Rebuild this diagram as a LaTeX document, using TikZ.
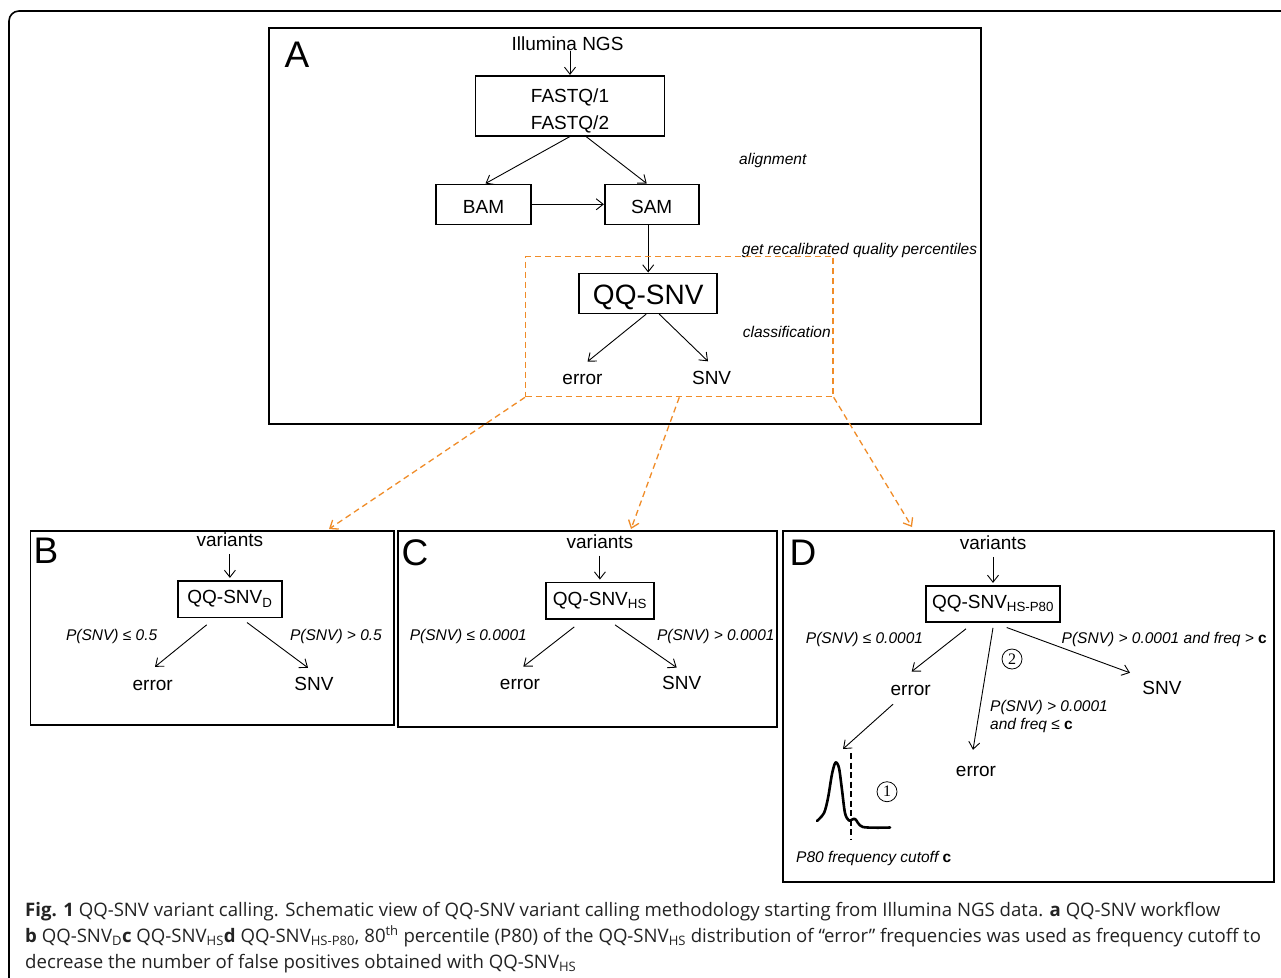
\documentclass[tikz,border=0pt]{standalone}
\usepackage{fontspec}
\setmainfont{Liberation Sans}
\newfontfamily\capfont{Open Sans}
\newfontfamily\numfont{Liberation Serif}
\usepackage{tikz}
\usetikzlibrary{arrows.meta}
\usetikzlibrary{positioning}
\definecolor{dashorange}{RGB}{240,140,40}
\definecolor{captext}{RGB}{35,35,35}
\tikzset{
  box/.style={draw, line width=1.6pt, inner sep=0pt, font=\fontsize{19}{21}\selectfont},
  boxa/.style={box, text height=17.5pt, text depth=0pt},
  panel/.style={draw, line width=1.6pt},
  leaf/.style={inner sep=0pt, text height=13pt, text depth=0pt, font=\fontsize{19}{21}\selectfont},
  cond/.style={inner sep=0pt, font=\fontsize{15.5}{18}\selectfont\itshape},
  arr/.style={-{Straight Barb[length=7pt,width=11pt]}, line width=0.9pt},
  orarr/.style={-{Straight Barb[length=7pt,width=11pt]}, draw=dashorange, line width=1.3pt, dash pattern=on 6pt off 4pt},
  letter/.style={inner sep=0pt, font=\fontsize{37}{40}\selectfont},
  circnum/.style={circle, draw, line width=0.8pt, inner sep=0pt, minimum size=20pt, font=\fontsize{16}{16}\numfont},
  capline/.style={anchor=base west, inner sep=0pt, text=captext, font=\fontsize{18.6}{26}\capfont}
}

\begin{document}
\begin{tikzpicture}[x=1pt,y=-1pt]
\useasboundingbox (0,0) rectangle (1281,977);
\fill[white] (0,0) rectangle (1281,977);
\draw[line width=1.6pt, rounded corners=10pt] (9,995) -- (9,11) -- (1300,11);

% panel A: workflow
\draw[panel] (269,28) rectangle (981,424);
\node[letter] (la) at (297,55) {A};
\node[leaf] (ill) at (567.5,44) {Illumina NGS};
\node[box, minimum width=189pt, minimum height=60pt, align=center, text height=47.6pt, text depth=0pt,
  font=\fontsize{19}{26.7}\selectfont] (fq) at (570,105.7) {FASTQ/1\\FASTQ/2};
\node[boxa, minimum width=95pt, minimum height=40pt] (bam) at (483.5,204.3) {BAM};
\node[boxa, minimum width=94pt, minimum height=40pt] (sam) at (651.7,204.3) {SAM};
\node[box, minimum width=138pt, minimum height=40pt, text height=22pt, text depth=0pt,
  font=\fontsize{28}{30}\selectfont] (qa) at (648.2,293.3) {QQ-SNV};
\node[leaf] (ea) at (582.5,378.3) {error};
\node[leaf] (sa) at (711.6,378) {SNV};
\node[cond] (tal) at (772.8,160) {alignment};
\node[cond] (trc) at (859.5,250) {get recalibrated quality percentiles};
\node[cond] (tcl) at (786.8,331.7) {classification};
\draw[arr] (ill.south -| fq.north) -- (fq.north);
\draw[arr] (fq.south) -- ([xshift=2pt]bam.north);
\draw[arr] ([xshift=16pt]fq.south) -- ([xshift=-5pt]sam.north);
\draw[arr] (bam.east) -- (sam.west);
\draw[arr] (sam.south -| qa.north) -- (qa.north);
\draw[arr] ([xshift=-2pt]qa.south) -- ([shift={(5,-10)}]ea.north);
\draw[arr] ([xshift=11pt]qa.south) -- ([shift={(-3.6,-10)}]sa.north);

% dashed zoom box and its arrows
\node[draw=dashorange, line width=1.3pt, dash pattern=on 6pt off 4pt,
  minimum width=307.5pt, minimum height=140pt] (dq) at (679.3,326.7) {};
\coordinate (tb) at (329,529);
\coordinate (tc) at (631,529);
\coordinate (td) at (912,527);
\draw[orarr] (dq.south west) -- (tb);
\draw[orarr] (dq.south) -- (tc);
\draw[orarr] (dq.south east) -- (td);

% panel B
\draw[panel] (30.5,530.7) rectangle (394,725);
\node[letter] (lb) at (46,551) {B};
\node[box, minimum width=103.7pt, minimum height=36.6pt] (qb) at (229.9,599) {QQ-SNV\textsubscript{D}};
\node[leaf, above=33pt of qb] (vb) {variants};
\node[cond] (pb1) at (111.7,636.7) {P(SNV) ≤ 0.5};
\node[cond] (pb2) at (336,636.7) {P(SNV) > 0.5};
\node[leaf] (eb) at (152.7,684) {error};
\node[leaf] (sb) at (314,684) {SNV};
\draw[arr, shorten <=7pt, shorten >=2pt] (vb) -- (qb);
\draw[arr] ([shift={(-23.2,6.7)}]qb.south) -- ([shift={(2.3,-10.5)}]eb.north);
\draw[arr] ([shift={(17.1,4.4)}]qb.south) -- ([shift={(-6,-9.5)}]sb.north);

% panel C
\draw[panel] (398,531) rectangle (776.7,726.7);
\node[letter] (lc) at (415,553) {C};
\node[box, minimum width=108.3pt, minimum height=36.7pt] (qc) at (599.9,600.7) {QQ-SNV\textsubscript{HS}};
\node[leaf, above=33pt of qc] (vc) {variants};
\node[cond] (pc1) at (468.3,636.7) {P(SNV) ≤ 0.0001};
\node[cond] (pc2) at (715.8,636.7) {P(SNV) > 0.0001};
\node[leaf] (ec) at (520,683.3) {error};
\node[leaf] (sc) at (681.7,683.3) {SNV};
\draw[arr, shorten <=7pt, shorten >=2pt] (vc) -- (qc);
\draw[arr] ([shift={(-25.6,7)}]qc.south) -- ([shift={(3.3,-10)}]ec.north);
\draw[arr] ([shift={(15.1,5)}]qc.south) -- ([shift={(-5,-9)}]sc.north);

% panel D
\draw[panel] (783,530.7) rectangle (1274,882);
\node[letter] (ld) at (803,553) {D};
\node[box, minimum width=134pt, minimum height=36pt] (qd) at (993,603.7) {QQ-SNV\textsubscript{HS-P80}};
\node[leaf, above=35pt of qd] (vd) {variants};
\node[cond] (pd1) at (864.5,639) {P(SNV) ≤ 0.0001};
\node[cond, anchor=east] (pd2) at (1267,639) {P(SNV) > 0.0001 and freq > {\upshape\bfseries c}};
\node[cond, anchor=west, align=left] (pd3) at (990,716) {P(SNV) > 0.0001\\and freq ≤ {\upshape\bfseries c}};
\node[leaf] (ed1) at (910.7,689) {error};
\node[leaf] (ed2) at (976,770) {error};
\node[leaf] (sd) at (1162,688) {SNV};
\node[circnum] (c1) at (887,791.7) {1};
\node[circnum] (c2) at (1012,659) {2};
\node[cond, anchor=west] (p80) at (796,858) {P80 frequency cutoff {\upshape\bfseries c}};
\coordinate (pk) at (843,749);
\draw[arr, shorten <=7pt, shorten >=2pt] (vd) -- (qd);
\draw[arr] ([shift={(-27,6.3)}]qd.south) -- ([shift={(1,-10.8)}]ed1.north);
\draw[arr] ([shift={(0,5.3)}]qd.south) -- ([shift={(-3,-13.5)}]ed2.north);
\draw[arr] ([shift={(13.7,5)}]qd.south) -- ([shift={(-32,-8.5)}]sd.north);
\draw[arr] ([shift={(-17.7,8.5)}]ed1.south) -- (pk);
\draw[line width=2.6pt, line join=round, line cap=round] plot[smooth] coordinates
  {(817,821) (824,813) (828,798) (832,774) (835.5,762.5) (839,768) (842,790) (845,813) (849,820.5) (855,819) (863,827) (890,827.5)};
\draw[line width=1.6pt, dash pattern=on 6pt off 3.5pt] (851,753) -- (851,840);

% caption
\node[capline] (cap1) at (25,916) {\textbf{Fig. 1} QQ-SNV variant calling. Schematic view of QQ-SNV variant calling methodology starting from Illumina NGS data. \textbf{a} QQ-SNV workflow};
\node[capline] (cap2) at (25,942) {\textbf{b} QQ-SNV\textsubscript{D}\textbf{c} QQ-SNV\textsubscript{HS}\textbf{d} QQ-SNV\textsubscript{HS-P80}, 80\textsuperscript{th} percentile (P80) of the QQ-SNV\textsubscript{HS} distribution of “error” frequencies was used as frequency cutoff to};
\node[capline] (cap3) at (25,968) {decrease the number of false positives obtained with QQ-SNV\textsubscript{HS}};
\end{tikzpicture}
\end{document}
